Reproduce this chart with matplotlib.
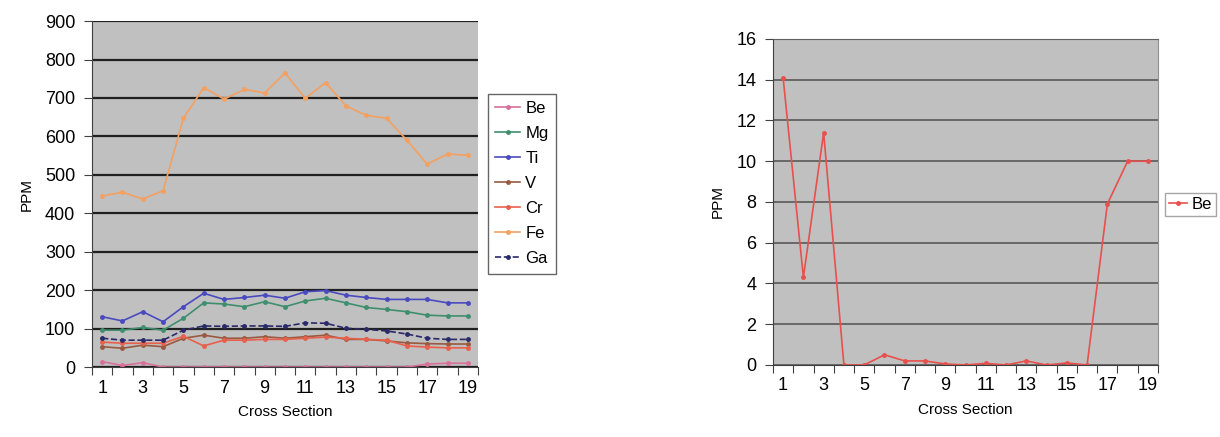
import matplotlib
matplotlib.use("Agg")
import matplotlib.pyplot as plt
import numpy as np

plt.rcParams['font.family'] = ['Liberation Sans', 'DejaVu Sans']

sections = list(range(1, 20))
xticklabels = ['1', '3', '5', '7', '9', '11', '13', '15', '17', '19']

be = [14.1, 4.3, 11.4, 0.0, 0.0, 0.5, 0.2, 0.2, 0.05, 0.0,
      0.08, 0.0, 0.2, 0.0, 0.1, 0.0, 7.9, 10.0, 10.0]
mg = [96, 96, 103, 96, 127, 167, 164, 157, 170, 157,
      172, 179, 167, 155, 150, 144, 135, 133, 133]
ti = [131, 120, 144, 118, 157, 192, 176, 181, 187, 179,
      196, 199, 187, 181, 176, 176, 176, 167, 167]
v = [53, 49, 57, 53, 75, 83, 75, 75, 79, 75,
     79, 83, 72, 72, 68, 63, 61, 60, 60]
cr = [65, 62, 62, 62, 80, 55, 70, 70, 72, 72,
      75, 78, 75, 72, 70, 55, 52, 50, 50]
fe = [445, 455, 437, 459, 647, 727, 697, 722, 713, 765,
      699, 740, 679, 655, 647, 590, 528, 554, 551]
ga = [75, 70, 70, 70, 96, 107, 106, 107, 107, 106,
      115, 114, 101, 98, 94, 86, 75, 72, 72]

series = [
    ('Be', be, '#d9709a', '-'),
    ('Mg', mg, '#3f8f6f', '-'),
    ('Ti', ti, '#4a4ac0', '-'),
    ('V', v, '#9a5a40', '-'),
    ('Cr', cr, '#e8604c', '-'),
    ('Fe', fe, '#f4a060', '-'),
    ('Ga', ga, '#2a2a6a', '--'),
]

fig = plt.figure(figsize=(12.2, 4.37), dpi=100)

def style_axes(ax, ymax, ystep, gridcolor, gridlw):
    ax.set_facecolor('#c0c0c0')
    ax.set_xlim(0.5, 19.5)
    ax.set_ylim(0, ymax)
    ax.set_yticks(np.arange(0, ymax + 1, ystep))
    ax.set_xticks(np.arange(0.5, 20, 1.0))
    ax.set_xticklabels([])
    ax.set_xticks(np.arange(1, 20, 2), minor=True)
    ax.set_xticklabels(xticklabels, minor=True)
    ax.tick_params(axis='x', which='minor', length=0, pad=9, labelsize=13)
    ax.tick_params(axis='x', which='major', length=6, color='#404040')
    ax.tick_params(axis='y', length=6, color='#404040', labelsize=13, pad=6)
    ax.yaxis.grid(True, color=gridcolor, lw=gridlw)
    ax.set_axisbelow(True)
    for s in ['top', 'right']:
        ax.spines[s].set_visible(False)
    for s in ['left', 'bottom']:
        ax.spines[s].set_color('#404040')
    ax.set_xlabel('Cross Section', fontsize=11, labelpad=6)
    ax.set_ylabel('PPM', fontsize=11, labelpad=8)

ax1 = fig.add_axes([0.0754, 0.160, 0.3164, 0.7918])
style_axes(ax1, 900, 100, '#202020', 1.6)
for name, vals, col, ls in series:
    ax1.plot(sections, vals, color=col, ls=ls, lw=1.2, marker='o', ms=2.5,
             label=name)
leg1 = ax1.legend(loc='upper left', bbox_to_anchor=(0.393, 0.805),
                  bbox_transform=fig.transFigure, fontsize=12, frameon=True,
                  fancybox=False, edgecolor='#404040', handlelength=1.5,
                  labelspacing=0.6, borderpad=0.45, handletextpad=0.3)
leg1.get_frame().set_linewidth(1.0)

ax2 = fig.add_axes([0.6336, 0.1648, 0.3156, 0.746])
style_axes(ax2, 16, 2, '#505050', 1.1)
ax2.spines['top'].set_visible(True)
ax2.spines['right'].set_visible(True)
ax2.spines['top'].set_color('#606060')
ax2.spines['right'].set_color('#909090')
ax2.plot(sections, be, color='#e8504c', lw=1.2, marker='o', ms=2.5, label='Be')
leg2 = ax2.legend(loc='upper left', bbox_to_anchor=(0.952, 0.566),
                  bbox_transform=fig.transFigure, fontsize=12, frameon=True,
                  fancybox=False, edgecolor='#909090', handlelength=1.1,
                  borderpad=0.25, handletextpad=0.25, borderaxespad=0.2)

fig.savefig('out.png', dpi=100)
